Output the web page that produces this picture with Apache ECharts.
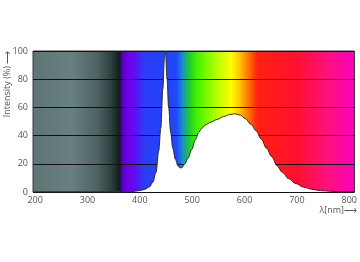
<!DOCTYPE html>
<html>
<head>
<meta charset="utf-8">
<script src="https://cdn.jsdelivr.net/npm/echarts@6/dist/echarts.min.js"></script>
<style>html,body{margin:0;padding:0;background:#fff}#c{width:360px;height:262px}</style>
</head>
<body>
<div id="c"></div>
<script>
// Wavelengths (nm) and relative intensity (%)
var wavelengths = [196, 340, 370, 385, 400, 410, 418, 425, 431, 436, 440, 444, 447, 449, 452, 455, 459, 463, 468, 473, 477, 481, 486, 492, 499, 506, 512, 518, 525, 535, 548, 560, 572, 582, 592, 602, 612, 622, 632, 642, 652, 662, 672, 684, 698, 712, 728, 745, 765, 790, 810];
var intensity   = [0, 0, 0, 0.3, 1, 2, 3.5, 7, 14, 29, 45, 73, 95, 100, 80, 60, 42, 31, 23, 18.5, 17, 17.5, 20, 24, 30, 37, 42, 45, 47.5, 49.5, 51.5, 53.5, 55, 55.5, 54.5, 52, 48, 43.5, 37.5, 31, 25, 18.6, 14, 9.5, 6, 3.5, 2, 1, 0.5, 0.2, 0];
var xTickLabels = [200, 300, 400, 500, 600, 700, 800];
var yTickLabels = [0, 20, 40, 60, 80, 100];

var xMin = 196, xMax = 810;
// spectrum background colour stops (wavelength, colour)
var specStops = [
  [196, '#5f7575'], [270, '#688080'], [320, '#4d6262'], [345, '#2e4040'], [362, '#121c1c'],
  [367, '#5400c0'], [378, '#7000e6'], [392, '#5a10f4'], [408, '#2c3cf6'], [470, '#2048fc'],
  [482, '#1890c8'], [494, '#20c830'], [508, '#40f000'], [540, '#a0ff00'], [574, '#ffff00'],
  [590, '#ffc800'], [606, '#ff7a00'], [624, '#ff2210'], [700, '#ff1030'], [760, '#ff1080'], [810, '#f800c0']
];

var chart = echarts.init(document.getElementById('c'), null, {renderer: 'canvas'});
var grad = new echarts.graphic.LinearGradient(0, 0, 1, 0, specStops.map(function (s) {
  return {offset: (s[0] - xMin) / (xMax - xMin), color: s[1]};
}));

var data = wavelengths.map(function (w, i) { return [w, intensity[i]]; });
var font = 'Open Sans';

chart.setOption({
  animation: false,
  grid: {left: 33, right: 3, top: 51, bottom: 70, show: true, backgroundColor: grad, borderColor: '#3a3a3a', borderWidth: 1},
  xAxis: {
    type: 'value', min: xMin, max: xMax,
    axisLine: {show: false}, axisTick: {show: false}, splitLine: {show: false},
    axisLabel: {customValues: xTickLabels, color: '#555', fontSize: 9, fontFamily: font, margin: 4}
  },
  yAxis: {
    type: 'value', min: 0, max: 100, interval: 20,
    axisLine: {show: false}, axisTick: {show: false},
    splitLine: {show: true, lineStyle: {color: '#111', width: 1}},
    axisLabel: {customValues: yTickLabels, color: '#555', fontSize: 9, fontFamily: font, margin: 5}
  },
  series: [{
    type: 'line', data: data, smooth: 0.35, smoothMonotone: 'x', showSymbol: false,
    lineStyle: {color: '#2b2b1e', width: 1}, areaStyle: {color: '#ffffff', opacity: 1}
  }],
  graphic: [
    {type: 'text', x: 7, y: 84, rotation: Math.PI / 2,
     style: {text: 'Intensity (%) \u27F6', fontSize: 9, fontFamily: font, fill: '#555', align: 'center', verticalAlign: 'middle'}},
    {type: 'text', x: 357, y: 210,
     style: {text: '\u03BB[nm]\u27F6', fontSize: 9, fontFamily: font, fill: '#555', align: 'right', verticalAlign: 'middle'}}
  ]
});
</script>
</body>
</html>
